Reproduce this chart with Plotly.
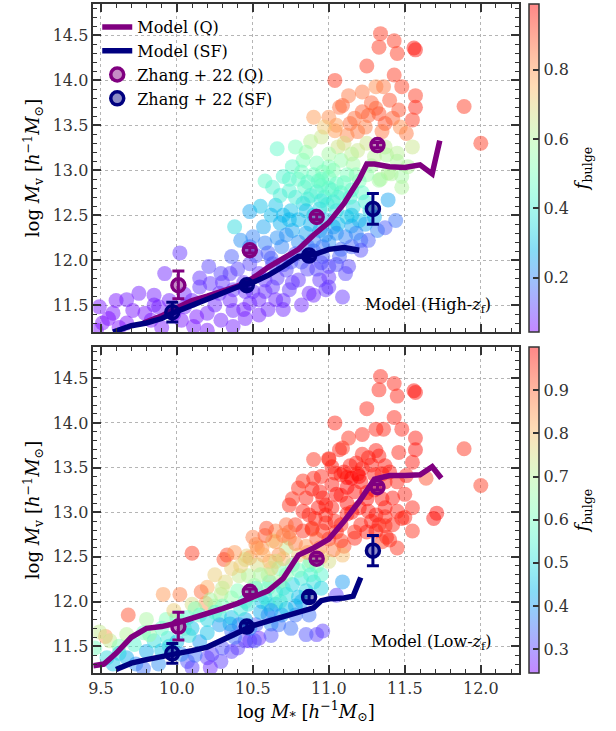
import numpy as np
import plotly.graph_objects as go

# ---------------- data: top panel (High-zf) ----------------
x_top = [11.34, 11.43, 11.33, 11.45, 11.56, 11.57, 11.25, 11.43, 11.04, 11.48, 11.57, 11.57, 11.55, 11.46, 11.31,
         11.33, 11.26, 11.22, 11.13, 11.22, 11.31, 11.36, 11.09, 11.07, 11.00, 10.90, 11.14, 11.19, 11.37, 11.35,
         11.51, 11.12, 11.04, 11.89, 12.00,
         11.55, 10.95, 10.88, 10.78, 10.66, 11.06, 11.19, 11.37, 11.38, 11.45, 11.52, 11.48, 11.39, 11.34, 10.83,
         10.76, 10.70, 10.92, 11.00, 11.08, 11.16, 11.41, 11.48, 11.33, 11.28, 11.25, 11.20, 11.12,
         10.63, 10.74, 10.84, 10.95, 11.05, 10.90, 11.00, 11.08, 10.97, 10.88, 11.15, 10.80, 10.58, 11.02, 10.93,
         10.65, 10.48, 10.83, 10.94, 11.05, 11.16, 11.20, 11.27, 11.39, 11.03, 10.90, 10.75, 11.12, 10.38,
         11.44, 11.32, 11.21, 11.11, 11.03, 10.94, 10.85, 10.76, 10.68, 10.57, 10.50, 10.48, 10.58, 10.69, 11.37,
         11.26, 10.42, 10.80, 11.00,
         10.78, 10.96, 11.07, 11.11, 11.00, 10.94, 11.00, 10.87, 10.80, 10.72, 10.63, 10.54, 10.48, 10.63, 10.54,
         10.48, 10.54, 10.74, 10.65, 11.21, 11.13, 11.00, 10.98, 10.90, 10.86, 10.90, 11.09,
         10.02, 9.92, 10.36, 10.21, 10.29, 10.15, 10.22, 9.75, 9.67, 9.85, 9.58, 9.49, 9.71, 9.79, 9.88,
         10.05, 10.13, 10.20, 10.29, 10.37, 9.51, 9.67, 9.83, 10.03, 10.11, 10.37, 10.37, 10.28, 9.55, 9.62,
         9.95, 10.10, 10.44, 10.40, 9.90, 10.20, 9.47, 9.60, 10.45,
         10.86, 10.92, 10.99, 11.06, 11.10, 11.14, 10.96, 11.03, 10.82, 10.74, 10.68, 11.18, 11.22, 11.24, 10.78,
         10.86, 11.00, 10.95,
         10.80, 10.88, 10.98, 11.06, 11.15, 11.24, 11.30, 10.72, 10.90, 11.05, 11.18, 10.62, 10.55, 10.70, 10.96,
         11.15,
         10.70, 10.82, 10.92, 11.05, 10.66, 10.76, 10.58, 10.45, 10.35, 10.25, 10.60, 10.70, 10.82, 10.44, 10.30,
         10.52, 10.60, 10.15, 10.05, 9.98, 9.85,
         11.17, 11.28, 11.40, 11.42, 11.24, 11.05, 10.97, 11.47,
         11.10, 11.25, 11.30, 11.45, 11.15, 11.00, 10.85,
         10.66, 10.74, 10.86, 10.98, 11.08, 10.62, 10.75, 10.95, 10.58, 10.70, 10.35, 10.50, 11.15, 10.85, 10.95]
y_top = [14.52, 14.44, 14.37, 14.30, 14.36, 14.34, 14.16, 14.06, 14.00, 13.93, 13.83, 13.70, 13.56, 13.67, 13.69,
         13.63, 13.61, 13.65, 13.83, 13.87, 13.93, 13.93, 13.72, 13.70, 13.59, 13.59, 13.52, 13.43, 13.52, 13.43,
         13.41, 13.39, 13.44, 13.71, 13.30,
         13.26, 13.37, 13.32, 13.26, 13.24, 13.26, 13.22, 13.26, 13.17, 13.19, 13.04, 12.93, 12.97, 12.90, 13.11,
         13.04, 12.93, 13.08, 13.04, 13.11, 13.07, 12.96, 12.81, 12.89, 13.05, 12.95, 12.88, 12.95,
         12.81, 12.77, 12.81, 12.83, 12.85, 12.95, 12.92, 12.75, 12.70, 12.72, 12.78, 12.90, 12.88, 12.78, 12.88,
         12.61, 12.54, 12.63, 12.57, 12.55, 12.59, 12.44, 12.55, 12.67, 12.65, 12.50, 12.55, 12.48, 12.37,
         12.44, 12.33, 12.22, 12.26, 12.37, 12.33, 12.30, 12.33, 12.41, 12.37, 12.26, 12.15, 12.19, 12.15, 12.36,
         12.22, 12.22, 12.20, 12.20,
         12.07, 12.04, 12.04, 11.85, 11.93, 11.78, 11.70, 11.63, 11.78, 11.89, 11.96, 11.85, 11.96, 11.70, 11.56,
         11.52, 11.39, 11.67, 11.56, 12.11, 11.93, 11.81, 11.67, 11.61, 11.90, 12.10, 11.59,
         12.08, 11.85, 12.04, 11.93, 11.85, 11.70, 11.74, 11.63, 11.56, 11.61, 11.41, 11.48, 11.44, 11.41, 11.48,
         11.48, 11.37, 11.41, 11.33, 11.44, 11.30, 11.30, 11.33, 11.33, 11.26, 11.26, 11.67, 11.63, 11.35, 11.25,
         11.55, 11.55, 11.75, 11.90, 11.25, 11.22, 11.22, 11.55, 11.35,
         12.68, 12.76, 12.62, 12.70, 12.86, 12.70, 12.98, 13.00, 12.98, 12.90, 12.72, 12.95, 12.75, 12.65, 12.70,
         12.87, 12.80, 12.90,
         12.45, 12.40, 12.45, 12.40, 12.38, 12.40, 12.48, 12.28, 12.22, 12.30, 12.30, 12.50, 12.60, 12.50, 12.15,
         12.15,
         11.95, 11.98, 11.90, 11.95, 11.80, 11.75, 11.65, 11.65, 11.55, 11.50, 11.45, 11.55, 11.50, 11.45, 11.75,
         12.05, 12.08, 11.80, 11.62, 11.40, 11.50,
         13.58, 13.75, 13.78, 13.58, 13.48, 13.50, 13.48, 13.48,
         13.30, 13.30, 13.15, 13.10, 13.18, 13.18, 13.20,
         12.25, 12.45, 12.15, 12.28, 12.12, 12.02, 11.98, 11.97, 11.78, 11.45, 11.85, 11.65, 12.50, 12.55, 12.66]
f_top = [0.93, 0.93, 0.93, 0.93, 0.97, 0.97, 0.93, 0.93, 0.93, 0.92, 0.93, 0.95, 0.93, 0.90, 0.88,
         0.90, 0.88, 0.88, 0.85, 0.85, 0.82, 0.85, 0.88, 0.86, 0.82, 0.80, 0.86, 0.85, 0.90, 0.85,
         0.85, 0.83, 0.80, 0.93, 0.93,
         0.65, 0.65, 0.62, 0.50, 0.45, 0.66, 0.65, 0.63, 0.60, 0.62, 0.60, 0.58, 0.60, 0.60, 0.50,
         0.45, 0.42, 0.50, 0.50, 0.55, 0.58, 0.60, 0.60, 0.58, 0.58, 0.55, 0.50, 0.50,
         0.42, 0.42, 0.45, 0.45, 0.47, 0.48, 0.47, 0.43, 0.42, 0.40, 0.45, 0.45, 0.45, 0.44, 0.46,
         0.30, 0.25, 0.33, 0.33, 0.35, 0.35, 0.30, 0.33, 0.25, 0.38, 0.32, 0.30, 0.32, 0.35,
         0.18, 0.20, 0.18, 0.20, 0.25, 0.25, 0.25, 0.25, 0.27, 0.25, 0.20, 0.18, 0.20, 0.20, 0.15,
         0.15, 0.22, 0.22, 0.22,
         0.15, 0.15, 0.15, 0.12, 0.12, 0.10, 0.10, 0.08, 0.10, 0.12, 0.13, 0.10, 0.12, 0.10, 0.08,
         0.08, 0.07, 0.10, 0.08, 0.13, 0.12, 0.10, 0.10, 0.08, 0.12, 0.15, 0.10,
         0.10, 0.08, 0.15, 0.12, 0.12, 0.10, 0.10, 0.07, 0.07, 0.07, 0.06, 0.06, 0.06, 0.06, 0.07,
         0.07, 0.06, 0.07, 0.07, 0.08, 0.05, 0.05, 0.06, 0.06, 0.06, 0.07, 0.10, 0.09, 0.05, 0.05,
         0.07, 0.08, 0.10, 0.12, 0.06, 0.06, 0.05, 0.06, 0.07,
         0.40, 0.43, 0.40, 0.42, 0.47, 0.42, 0.50, 0.52, 0.48, 0.44, 0.40, 0.52, 0.45, 0.40, 0.40,
         0.45, 0.45, 0.47,
         0.28, 0.27, 0.30, 0.28, 0.25, 0.25, 0.27, 0.22, 0.20, 0.22, 0.20, 0.28, 0.30, 0.28, 0.18,
         0.16,
         0.13, 0.14, 0.12, 0.13, 0.11, 0.10, 0.09, 0.09, 0.08, 0.08, 0.08, 0.09, 0.08, 0.07, 0.10,
         0.14, 0.15, 0.10, 0.08, 0.06, 0.07,
         0.86, 0.88, 0.90, 0.88, 0.84, 0.80, 0.72, 0.82,
         0.68, 0.66, 0.62, 0.60, 0.62, 0.58, 0.55,
         0.22, 0.28, 0.18, 0.22, 0.17, 0.15, 0.14, 0.13, 0.10, 0.08, 0.11, 0.09, 0.30, 0.30, 0.38]

# ---------------- data: bottom panel (Low-zf) ----------------
x_bot = [11.34, 11.43, 11.33, 11.45, 11.56, 11.57, 11.25, 11.43, 11.04, 11.48, 11.57, 11.57, 11.55, 11.46, 11.31,
         11.33, 11.26, 11.22, 11.13, 11.22, 11.31, 11.36, 11.09, 11.07, 11.00, 10.90, 11.14, 11.19, 11.37, 11.35,
         11.51, 11.12, 11.04, 11.89, 12.00,
         11.02, 11.08, 11.15, 11.21, 11.17, 11.08, 11.22, 11.28, 11.37, 11.45, 11.42, 11.45, 11.37, 11.31, 11.26,
         11.21, 11.17, 11.08, 11.02, 11.02, 10.96, 10.89, 10.94, 10.85, 10.76, 10.80, 10.74, 10.87, 10.91, 10.83,
         10.98, 11.04, 10.96, 10.89, 10.78, 10.83, 11.33, 11.31, 11.42, 11.55, 11.50, 11.71, 11.69, 11.64, 11.40,
         11.48, 11.37, 10.89, 11.00, 11.17, 11.35, 11.37, 11.12, 11.25, 11.30, 11.15, 10.95, 11.10,
         10.72, 10.65, 10.59, 10.74, 10.63, 10.52, 10.33, 10.46, 10.80, 10.72, 10.61, 10.48, 10.56, 10.65, 10.74,
         10.94, 11.00, 11.09, 10.58, 10.70, 10.53, 10.67, 10.10, 10.31, 10.88, 10.85,
         10.87, 10.76, 10.67, 10.61, 10.52, 10.90, 10.82, 10.76, 10.41, 10.47, 10.53, 10.62, 10.51, 10.60, 10.68,
         10.36, 10.45, 10.32, 10.29, 10.36, 10.20, 10.16, 10.02, 9.91, 10.19, 10.10, 10.95, 11.09,
         11.05, 10.96, 10.92, 10.85, 10.87, 10.78, 10.82, 10.56, 10.65, 10.69, 10.60, 10.52, 10.67, 10.54, 10.48,
         10.15, 10.07, 10.28, 10.36, 10.47, 10.60, 10.68, 10.28, 10.36, 10.45, 10.51, 10.41, 10.23, 10.29, 10.07,
         10.03, 9.80, 9.67, 9.54, 9.46, 9.72, 9.85, 9.94, 9.58, 9.73, 9.88, 10.10, 10.20, 10.22, 10.36,
         10.15, 10.20,
         9.68, 9.53, 9.80, 9.67, 9.56, 9.82, 9.93, 9.49, 10.05, 10.25, 9.98,
         11.10, 11.18, 11.12, 11.20, 11.25, 11.05, 10.98, 11.12, 11.20, 11.35, 11.28, 11.38, 11.45, 11.25, 11.05,
         10.93, 10.90, 10.83, 11.00, 11.30, 11.40, 11.50, 11.55, 11.08, 10.98,
         10.78, 10.86, 10.92, 10.70, 10.57, 10.42, 10.38, 10.50, 10.95, 11.03, 10.25, 10.60,
         10.72, 10.80, 10.92, 10.65, 10.72, 10.85, 10.95, 10.40, 10.30, 10.22, 10.12, 10.00, 9.90, 9.78, 9.62,
         10.45,
         10.72, 10.78, 10.62, 10.45, 10.55, 10.35, 10.20, 10.10, 10.00, 9.90, 9.62, 10.62, 10.75, 10.40, 10.30,
         10.12, 9.78,
         10.58, 10.70, 10.80, 10.88, 10.50, 10.42, 10.30, 10.55, 10.65, 10.25, 10.08, 9.95, 10.62, 10.48, 10.38]
y_bot = [14.52, 14.44, 14.37, 14.30, 14.36, 14.34, 14.16, 14.06, 14.00, 13.93, 13.83, 13.70, 13.56, 13.67, 13.69,
         13.63, 13.61, 13.65, 13.83, 13.87, 13.93, 13.93, 13.72, 13.70, 13.59, 13.59, 13.52, 13.43, 13.52, 13.43,
         13.41, 13.39, 13.44, 13.71, 13.30,
         13.51, 13.42, 13.38, 13.34, 13.23, 13.19, 13.49, 13.53, 13.34, 13.34, 13.16, 13.01, 13.05, 12.97, 13.01,
         12.86, 12.71, 12.86, 13.05, 13.31, 13.16, 13.26, 13.23, 13.16, 13.15, 13.27, 13.08, 12.97, 12.93, 13.01,
         12.97, 12.90, 12.79, 12.82, 12.86, 12.79, 12.86, 12.79, 12.86, 12.79, 12.94, 12.99, 12.93, 13.38, 12.69,
         12.93, 12.95, 12.81, 12.70, 12.78, 12.67, 12.85, 13.10, 13.15, 13.25, 13.00, 13.40, 12.62,
         12.86, 12.79, 12.82, 12.71, 12.68, 12.64, 12.52, 12.51, 12.52, 12.60, 12.45, 12.49, 12.60, 12.67, 12.78,
         12.60, 12.45, 12.52, 12.74, 12.74, 12.60, 12.52, 12.54, 12.47, 12.45, 12.62,
         12.41, 12.41, 12.37, 12.22, 12.15, 12.22, 12.26, 12.19, 12.29, 12.29, 12.41, 12.37, 12.18, 12.15, 12.22,
         12.37, 12.47, 12.22, 12.08, 12.04, 12.16, 12.11, 12.08, 12.08, 11.98, 11.97, 12.30, 12.22,
         12.07, 11.67, 11.63, 11.63, 11.85, 11.85, 12.00, 12.00, 11.97, 11.85, 11.85, 11.74, 11.74, 11.59, 11.56,
         11.85, 11.82, 11.85, 11.82, 11.97, 11.97, 12.00, 11.74, 11.67, 11.56, 11.56, 11.74, 11.41, 11.33, 11.33,
         11.41, 11.44, 11.37, 11.37, 11.48, 11.52, 11.56, 11.59, 11.30, 11.30, 11.30, 11.26, 11.37, 11.26, 11.44,
         11.55, 11.65,
         11.85, 11.61, 11.80, 11.63, 11.56, 11.63, 11.80, 11.66, 11.70, 11.95, 11.90,
         13.45, 13.55, 13.28, 13.40, 13.22, 13.20, 13.08, 12.98, 13.05, 13.15, 12.90, 12.72, 12.60, 12.78, 12.78,
         13.05, 13.38, 13.35, 13.60, 13.42, 13.45, 13.20, 13.05, 12.68, 12.88,
         12.65, 12.55, 12.70, 12.48, 12.52, 12.40, 12.55, 12.72, 12.50, 12.58, 12.30, 12.30,
         12.30, 12.35, 12.40, 12.10, 12.08, 12.12, 12.15, 12.12, 11.95, 12.02, 11.92, 11.82, 11.70, 11.65, 11.50,
         12.00,
         11.92, 11.95, 11.75, 11.80, 11.88, 11.75, 11.80, 11.70, 11.55, 11.45, 11.42, 11.62, 11.70, 11.48, 11.48,
         11.40, 11.25,
         12.05, 12.15, 12.05, 12.30, 12.08, 11.92, 12.15, 12.30, 12.45, 11.88, 11.62, 11.50, 11.90, 11.70, 11.60]
f_bot = [0.97, 0.97, 0.97, 0.97, 0.99, 0.99, 0.97, 0.97, 0.97, 0.97, 0.98, 0.99, 0.98, 0.97, 0.98,
         0.98, 0.98, 0.97, 0.96, 0.97, 0.97, 0.97, 0.96, 0.97, 0.96, 0.96, 0.98, 0.98, 0.98, 0.98,
         0.97, 0.98, 0.97, 0.96, 0.95,
         0.98, 0.98, 1.00, 0.99, 0.99, 0.98, 0.98, 0.98, 0.98, 0.97, 0.98, 0.97, 0.98, 0.98, 0.98,
         0.97, 0.97, 0.97, 0.98, 0.98, 0.98, 0.98, 0.98, 0.97, 0.96, 0.96, 0.96, 0.97, 0.97, 0.97,
         0.97, 0.97, 0.96, 0.96, 0.95, 0.96, 0.97, 0.97, 0.97, 0.96, 0.97, 0.99, 0.99, 0.93, 0.97,
         0.97, 0.97, 0.95, 0.96, 0.96, 0.95, 0.96, 0.99, 0.99, 0.98, 0.99, 0.97, 0.93,
         0.90, 0.88, 0.93, 0.88, 0.78, 0.85, 0.93, 0.78, 0.78, 0.72, 0.82, 0.85, 0.86, 0.85, 0.90,
         0.88, 0.75, 0.80, 0.92, 0.88, 0.85, 0.86, 0.95, 0.93, 0.72, 0.85,
         0.58, 0.60, 0.62, 0.55, 0.52, 0.50, 0.52, 0.48, 0.72, 0.70, 0.75, 0.78, 0.65, 0.62, 0.70,
         0.78, 0.75, 0.76, 0.72, 0.65, 0.82, 0.90, 0.88, 0.85, 0.85, 0.75, 0.55, 0.40,
         0.30, 0.30, 0.30, 0.32, 0.35, 0.35, 0.40, 0.45, 0.42, 0.40, 0.35, 0.33, 0.35, 0.28, 0.28,
         0.55, 0.55, 0.50, 0.45, 0.50, 0.52, 0.55, 0.40, 0.35, 0.30, 0.32, 0.35, 0.30, 0.30, 0.32,
         0.38, 0.42, 0.42, 0.50, 0.60, 0.55, 0.50, 0.52, 0.45, 0.38, 0.38, 0.30, 0.30, 0.28, 0.30,
         0.40, 0.45,
         0.93, 0.85, 0.68, 0.70, 0.72, 0.66, 0.62, 0.72, 0.62, 0.68, 0.78,
         0.99, 0.98, 1.00, 1.00, 0.99, 0.99, 0.98, 0.98, 0.99, 0.98, 0.98, 0.97, 0.96, 0.98, 0.97,
         0.98, 0.97, 0.96, 0.97, 0.98, 0.98, 0.97, 0.97, 0.95, 0.97,
         0.88, 0.85, 0.92, 0.80, 0.82, 0.78, 0.85, 0.88, 0.80, 0.88, 0.78, 0.72,
         0.62, 0.60, 0.62, 0.55, 0.50, 0.48, 0.48, 0.62, 0.60, 0.68, 0.62, 0.60, 0.58, 0.60, 0.62,
         0.55,
         0.45, 0.42, 0.38, 0.42, 0.42, 0.42, 0.48, 0.45, 0.45, 0.45, 0.48, 0.32, 0.35, 0.30, 0.32,
         0.35, 0.35,
         0.50, 0.52, 0.45, 0.55, 0.55, 0.52, 0.72, 0.68, 0.75, 0.55, 0.50, 0.48, 0.40, 0.38, 0.35]

# ---------------- model median lines ----------------
q_top_x = [9.78, 9.90, 10.00, 10.10, 10.20, 10.30, 10.40, 10.50, 10.60, 10.70, 10.80, 10.90, 11.00, 11.10,
           11.20, 11.25, 11.30, 11.40, 11.50, 11.60, 11.68, 11.73]
q_top_y = [11.30, 11.38, 11.47, 11.55, 11.60, 11.65, 11.71, 11.80, 11.92, 12.02, 12.12, 12.28, 12.42, 12.63,
           12.90, 13.07, 13.07, 13.04, 13.03, 13.06, 12.96, 13.33]
sf_top_x = [9.58, 9.70, 9.80, 9.90, 10.00, 10.10, 10.20, 10.30, 10.40, 10.50, 10.60, 10.70, 10.80, 10.90,
            11.00, 11.10, 11.20]
sf_top_y = [11.20, 11.27, 11.30, 11.35, 11.43, 11.50, 11.56, 11.64, 11.70, 11.75, 11.83, 11.93, 12.04, 12.06,
            12.12, 12.14, 12.11]
q_bot_x = [9.45, 9.52, 9.60, 9.70, 9.80, 9.90, 10.00, 10.10, 10.20, 10.30, 10.40, 10.50, 10.60, 10.70,
           10.80, 10.90, 11.00, 11.10, 11.20, 11.30, 11.40, 11.50, 11.60, 11.68, 11.74]
q_bot_y = [11.28, 11.30, 11.42, 11.60, 11.70, 11.72, 11.76, 11.81, 11.86, 11.92, 11.98, 12.05, 12.12, 12.26,
           12.52, 12.60, 12.70, 12.90, 13.12, 13.37, 13.41, 13.41, 13.42, 13.51, 13.38]
sf_bot_x = [9.60, 9.70, 9.80, 9.90, 10.00, 10.10, 10.20, 10.30, 10.40, 10.50, 10.60, 10.70, 10.80, 10.90,
            10.95, 11.00, 11.10, 11.16, 11.21]
sf_bot_y = [11.24, 11.31, 11.35, 11.38, 11.41, 11.45, 11.49, 11.57, 11.66, 11.73, 11.78, 11.83, 11.87, 11.93,
            12.01, 12.03, 12.04, 12.06, 12.27]

# ---------------- Zhang+22 measurements ----------------
zq_x = [10.01, 10.48, 10.92, 11.32]
zq_y = [11.72, 12.11, 12.48, 13.28]
zq_ep = [0.16, 0.03, 0.03, 0.03]
zq_em = [0.15, 0.03, 0.03, 0.03]
zs_x = [9.97, 10.46, 10.87, 11.29]
zs_y = [11.42, 11.72, 12.05, 12.57]
zs_e = [0.11, 0.04, 0.04, 0.17]

cb_top_ticks = [0.2, 0.4, 0.6, 0.8]
cb_bot_ticks = [0.3, 0.4, 0.5, 0.6, 0.7, 0.8, 0.9]

# ---------------- style ----------------
ALPHA = 0.47
def rainbow(t):
    r = min(1.0, abs(2 * t - 0.5))
    g = np.sin(np.pi * t)
    b = np.cos(np.pi * t / 2)
    return "rgba(%d,%d,%d,%.2f)" % (round(255 * r), round(255 * g), round(255 * b), ALPHA)

cscale = [[i / 20, rainbow(i / 20)] for i in range(21)]

FONT = "DejaVu Serif"
DARK = "#333333"
PURPLE = "#800080"
NAVY = "#000080"

W, H = 616, 731
px_l, px_r = 89, 518
top_t, top_b = 4, 332
bot_t, bot_b = 347, 673
cb_x = 528

fig = go.Figure()

def add_panel(xs, ys, fs, cmin, cmax, cbt, xa, ya, cb_top, cb_bot, qx, qy, sx, sy, legend):
    fig.add_trace(go.Scatter(
        x=xs, y=ys, mode="markers", xaxis=xa, yaxis=ya, showlegend=False, hoverinfo="skip",
        marker=dict(size=15, color=fs, colorscale=cscale, cmin=cmin, cmax=cmax, line=dict(width=0),
                    colorbar=dict(x=cb_x / W, xanchor="left", xpad=0, ypad=0,
                                  thickness=10, thicknessmode="pixels",
                                  y=1 - (cb_top + cb_bot) / 2 / H, yanchor="middle",
                                  len=(cb_bot - cb_top) / H, lenmode="fraction",
                                  outlinewidth=1.5, outlinecolor=DARK,
                                  tickvals=cbt, ticktext=["%.1f" % v for v in cbt],
                                  ticks="inside", ticklen=6, tickcolor=DARK, tickwidth=1.5,
                                  tickfont=dict(family=FONT, size=16, color=DARK),
                                  title=dict(text="<i>f</i><sub>bulge</sub>", side="right",
                                             font=dict(family=FONT, size=18, color="black")))),
    ))
    fig.add_trace(go.Scatter(x=qx, y=qy, mode="lines", xaxis=xa, yaxis=ya, name="Model (Q)",
                             showlegend=legend, line=dict(color=PURPLE, width=5.5)))
    fig.add_trace(go.Scatter(x=sx, y=sy, mode="lines", xaxis=xa, yaxis=ya, name="Model (SF)",
                             showlegend=legend, line=dict(color=NAVY, width=5.5)))
    fig.add_trace(go.Scatter(x=zq_x, y=zq_y, mode="markers", xaxis=xa, yaxis=ya, name="Zhang + 22 (Q)",
                             showlegend=legend,
                             marker=dict(symbol="circle", size=13, color="rgba(128,0,128,0.45)",
                                         line=dict(color=PURPLE, width=3.5)),
                             error_y=dict(type="data", array=zq_ep, arrayminus=zq_em, color=PURPLE,
                                          thickness=3, width=6)))
    fig.add_trace(go.Scatter(x=zs_x, y=zs_y, mode="markers", xaxis=xa, yaxis=ya, name="Zhang + 22 (SF)",
                             showlegend=legend,
                             marker=dict(symbol="circle", size=13, color="rgba(0,0,128,0.45)",
                                         line=dict(color=NAVY, width=3.5)),
                             error_y=dict(type="data", array=zs_e, color=NAVY, thickness=3, width=6)))

add_panel(x_top, y_top, f_top, 0.043, 0.99, cb_top_ticks, "x", "y", top_t, top_b,
          q_top_x, q_top_y, sf_top_x, sf_top_y, True)
add_panel(x_bot, y_bot, f_bot, 0.245, 1.0, cb_bot_ticks, "x2", "y2", bot_t, bot_b,
          q_bot_x, q_bot_y, sf_bot_x, sf_bot_y, False)

axis_common = dict(showline=True, linecolor=DARK, linewidth=1.5, mirror="allticks",
                   ticks="inside", ticklen=8, tickwidth=1.5, tickcolor=DARK,
                   showgrid=True, gridcolor="#b5b5b5", griddash="dot", gridwidth=1, zeroline=False,
                   minor=dict(ticks="inside", ticklen=4, tickwidth=1, tickcolor=DARK, dtick=0.1, showgrid=False),
                   tickfont=dict(family=FONT, size=16, color=DARK), tickformat=".1f")

ytitle = "log <i>M</i><sub>v</sub> [<i>h</i><sup>−1</sup><i>M</i><sub>⊙</sub>]"
xtitle = "log <i>M</i><sub>*</sub> [<i>h</i><sup>−1</sup><i>M</i><sub>⊙</sub>]"

fig.update_layout(
    width=W, height=H, margin=dict(l=0, r=0, t=0, b=0),
    paper_bgcolor="white", plot_bgcolor="white",
    xaxis=dict(domain=[px_l / W, px_r / W], range=[9.45, 12.25], tick0=9.5, dtick=0.5,
               anchor="y", showticklabels=False, **axis_common),
    yaxis=dict(domain=[1 - top_b / H, 1 - top_t / H], range=[11.2, 14.85], tick0=11.5, dtick=0.5,
               anchor="x", title=dict(text=ytitle, font=dict(family=FONT, size=18, color="black"), standoff=8),
               **axis_common),
    xaxis2=dict(domain=[px_l / W, px_r / W], range=[9.45, 12.25], tick0=9.5, dtick=0.5,
                anchor="y2", title=dict(text=xtitle, font=dict(family=FONT, size=18, color="black"), standoff=6),
                **axis_common),
    yaxis2=dict(domain=[1 - bot_b / H, 1 - bot_t / H], range=[11.2, 14.85], tick0=11.5, dtick=0.5,
                anchor="x2", title=dict(text=ytitle, font=dict(family=FONT, size=18, color="black"), standoff=8),
                **axis_common),
    legend=dict(x=(px_l + 4) / W, y=1 - (top_t + 6) / H, xanchor="left", yanchor="top",
                bgcolor="rgba(0,0,0,0)", font=dict(family=FONT, size=16, color="black"),
                tracegroupgap=0, itemwidth=30),
    showlegend=True,
)

fig.add_annotation(x=12.08, y=11.5, xref="x", yref="y", xanchor="right", yanchor="middle",
                   text="Model (High-<i>z</i><sub>f</sub>)", showarrow=False,
                   font=dict(family=FONT, size=16, color="black"))
fig.add_annotation(x=12.08, y=11.54, xref="x2", yref="y2", xanchor="right", yanchor="middle",
                   text="Model (Low-<i>z</i><sub>f</sub>)", showarrow=False,
                   font=dict(family=FONT, size=16, color="black"))

fig.write_html("out.html")
